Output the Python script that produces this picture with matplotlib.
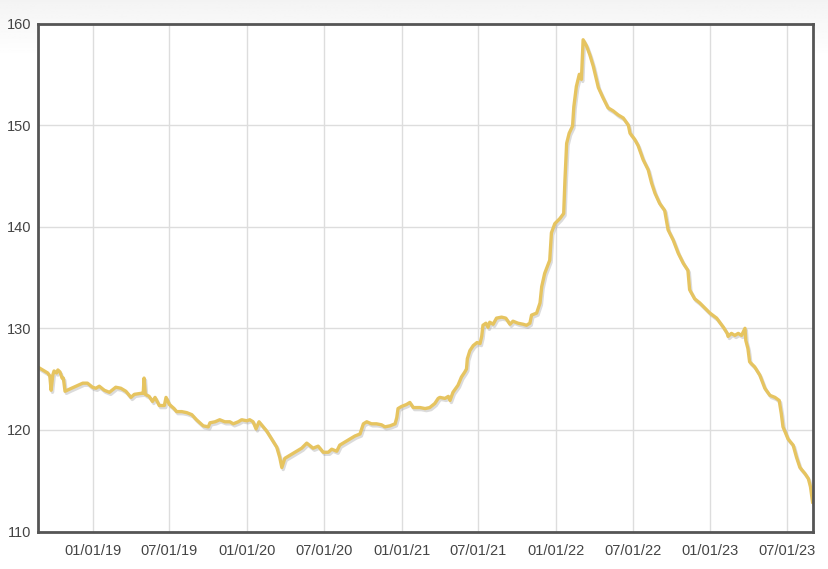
import numpy as np
import pandas as pd
import matplotlib
matplotlib.use('Agg')
import matplotlib.pyplot as plt
import matplotlib.dates as mdates
import matplotlib.patheffects as pe

# values
dates = [
    '2018-08-27', '2018-09-04', '2018-09-16', '2018-09-21', '2018-09-24', '2018-09-28',
    '2018-10-01', '2018-10-07', '2018-10-10', '2018-10-15', '2018-10-20', '2018-10-23',
    '2018-10-27', '2018-11-06', '2018-11-22', '2018-12-08', '2018-12-19', '2018-12-31',
    '2019-01-08', '2019-01-16', '2019-01-28', '2019-02-09', '2019-02-24', '2019-03-08',
    '2019-03-20', '2019-04-01', '2019-04-09', '2019-04-25', '2019-04-30', '2019-05-02',
    '2019-05-05', '2019-05-14', '2019-05-22', '2019-05-28', '2019-06-07', '2019-06-19',
    '2019-06-23', '2019-07-01', '2019-07-12', '2019-07-18', '2019-07-30', '2019-08-11',
    '2019-08-23', '2019-09-03', '2019-09-19', '2019-10-01', '2019-10-05', '2019-10-17',
    '2019-10-28', '2019-11-09', '2019-11-21', '2019-11-29', '2019-12-11', '2019-12-19',
    '2019-12-31', '2020-01-07', '2020-01-15', '2020-01-22', '2020-01-29', '2020-02-04',
    '2020-02-16', '2020-02-28', '2020-03-11', '2020-03-18', '2020-03-23', '2020-03-30',
    '2020-04-11', '2020-04-27', '2020-05-09', '2020-05-21', '2020-06-05', '2020-06-17',
    '2020-06-29', '2020-07-11', '2020-07-19', '2020-07-31', '2020-08-07', '2020-08-19',
    '2020-08-31', '2020-09-12', '2020-09-24', '2020-10-02', '2020-10-10', '2020-10-21',
    '2020-11-02', '2020-11-14', '2020-11-22', '2020-12-04', '2020-12-16', '2020-12-20',
    '2020-12-23', '2020-12-31', '2021-01-12', '2021-01-20', '2021-01-28', '2021-02-13',
    '2021-02-25', '2021-03-08', '2021-03-20', '2021-03-28', '2021-04-01', '2021-04-13',
    '2021-04-21', '2021-04-25', '2021-05-02', '2021-05-14', '2021-05-22', '2021-05-30',
    '2021-06-03', '2021-06-05', '2021-06-11', '2021-06-19', '2021-06-28', '2021-07-05',
    '2021-07-09', '2021-07-12', '2021-07-19', '2021-07-24', '2021-07-28', '2021-08-05',
    '2021-08-13', '2021-08-25', '2021-09-04', '2021-09-14', '2021-09-21', '2021-10-03',
    '2021-10-15', '2021-10-23', '2021-10-31', '2021-11-04', '2021-11-16', '2021-11-24',
    '2021-11-28', '2021-12-05', '2021-12-17', '2021-12-21', '2021-12-29', '2022-01-10',
    '2022-01-19', '2022-01-22', '2022-01-26', '2022-02-01', '2022-02-09', '2022-02-12',
    '2022-02-18', '2022-02-25', '2022-03-02', '2022-03-06', '2022-03-14', '2022-03-22',
    '2022-03-30', '2022-04-11', '2022-04-22', '2022-05-04', '2022-05-16', '2022-05-28',
    '2022-06-09', '2022-06-21', '2022-06-25', '2022-07-06', '2022-07-14', '2022-07-26',
    '2022-08-07', '2022-08-15', '2022-08-23', '2022-09-03', '2022-09-15', '2022-09-23',
    '2022-10-05', '2022-10-17', '2022-10-29', '2022-11-09', '2022-11-13', '2022-11-25',
    '2022-12-07', '2022-12-19', '2022-12-31', '2023-01-16', '2023-02-01', '2023-02-10',
    '2023-02-12', '2023-02-20', '2023-02-28', '2023-03-08', '2023-03-16', '2023-03-24',
    '2023-03-26', '2023-03-31', '2023-04-04', '2023-04-16', '2023-04-28', '2023-05-10',
    '2023-05-22', '2023-06-03', '2023-06-13', '2023-06-18', '2023-06-22', '2023-07-04',
    '2023-07-16', '2023-07-24', '2023-08-01', '2023-08-13', '2023-08-21', '2023-08-26',
    '2023-08-31',
]
values = [
    126.1, 125.9, 125.6, 125.3, 123.9, 125.4,
    125.8, 125.6, 125.9, 125.7, 125.1, 125.1,
    123.8, 124.0, 124.3, 124.6, 124.6, 124.2,
    124.1, 124.3, 123.9, 123.7, 124.2, 124.1,
    123.8, 123.2, 123.5, 123.6, 123.6, 125.1,
    123.5, 123.3, 122.8, 123.2, 122.4, 122.4,
    123.2, 122.5, 122.1, 121.8, 121.8, 121.7,
    121.5, 121.0, 120.4, 120.3, 120.7, 120.8,
    121.0, 120.8, 120.8, 120.6, 120.8, 121.0,
    120.9, 121.0, 120.8, 120.1, 120.8, 120.5,
    119.9, 119.1, 118.3, 117.3, 116.3, 117.2,
    117.5, 117.9, 118.2, 118.7, 118.2, 118.4,
    117.8, 117.8, 118.1, 117.9, 118.5, 118.8,
    119.1, 119.4, 119.6, 120.6, 120.8, 120.6,
    120.6, 120.5, 120.3, 120.4, 120.6, 121.2,
    122.1, 122.3, 122.5, 122.7, 122.2, 122.2,
    122.1, 122.2, 122.6, 123.1, 123.2, 123.1,
    123.3, 122.9, 123.7, 124.4, 125.2, 125.7,
    126.0, 127.0, 127.8, 128.3, 128.6, 128.5,
    129.2, 130.3, 130.5, 130.1, 130.6, 130.4,
    131.0, 131.1, 131.0, 130.4, 130.7, 130.5,
    130.4, 130.3, 130.5, 131.3, 131.5, 132.5,
    134.1, 135.4, 136.7, 139.4, 140.3, 140.8,
    141.3, 144.6, 148.2, 149.2, 149.9, 151.8,
    153.8, 155.0, 154.5, 158.4, 157.8, 156.9,
    155.8, 153.7, 152.7, 151.7, 151.4, 151.0,
    150.7, 150.0, 149.2, 148.6, 148.0, 146.6,
    145.6, 144.3, 143.3, 142.3, 141.6, 139.7,
    138.7, 137.4, 136.4, 135.7, 133.8, 132.9,
    132.5, 132.0, 131.5, 131.0, 130.1, 129.5,
    129.2, 129.5, 129.3, 129.5, 129.3, 130.0,
    128.8, 128.0, 126.7, 126.2, 125.4, 124.1,
    123.4, 123.2, 122.9, 121.6, 120.3, 119.1,
    118.5, 117.3, 116.3, 115.7, 115.2, 114.4,
    112.9,
]
tick_dates = ['2019-01-01', '2019-07-01', '2020-01-01', '2020-07-01', '2021-01-01',
              '2021-07-01', '2022-01-01', '2022-07-01', '2023-01-01', '2023-07-01']
y_ticks = [110, 120, 130, 140, 150, 160]

plt.rcParams['font.family'] = ['Liberation Sans', 'DejaVu Sans']

s = pd.Series(values, index=pd.to_datetime(dates))

fig = plt.figure(figsize=(8.29, 5.69), dpi=100)

# soft gray-to-white gradient at the top of the figure
bg = fig.add_axes([0, 0, 1, 1], zorder=-10)
t = np.linspace(0, 1, 400)
shade = np.clip(0.955 + 0.045 * t / 0.1, 0, 1).reshape(-1, 1)
bg.imshow(np.repeat(shade, 2, axis=1), cmap='gray', vmin=0, vmax=1,
          aspect='auto', extent=[0, 1, 0, 1], origin='upper')
bg.set_xlim(0, 1)
bg.set_ylim(0, 1)
bg.set_axis_off()

ax = fig.add_axes([38 / 829, 1 - 531.5 / 569, (813 - 38) / 829, (531.5 - 23.5) / 569])
ax.set_facecolor('white')

ax.plot(s.index, s.values, color='#E6C460', lw=2.4, solid_joinstyle='round',
        path_effects=[pe.SimpleLineShadow(offset=(1, -1.5), shadow_color='#999999', alpha=0.35),
                      pe.Normal()])

ax.set_xlim(pd.Timestamp('2018-08-24'), pd.Timestamp('2023-09-01'))
ax.set_ylim(110, 160)
ax.set_yticks(y_ticks)
ax.set_xticks(pd.to_datetime(tick_dates))
ax.xaxis.set_major_formatter(mdates.DateFormatter('%m/%d/%y'))

ax.grid(True, color='#dddddd', lw=1)
ax.set_axisbelow(True)
ax.tick_params(length=0, labelsize=10.5, colors='#444444', pad=5)
ax.tick_params(axis='x', pad=9)
for sp in ax.spines.values():
    sp.set_color('#555555')
    sp.set_linewidth(2)

fig.savefig('out.png', dpi=100)
